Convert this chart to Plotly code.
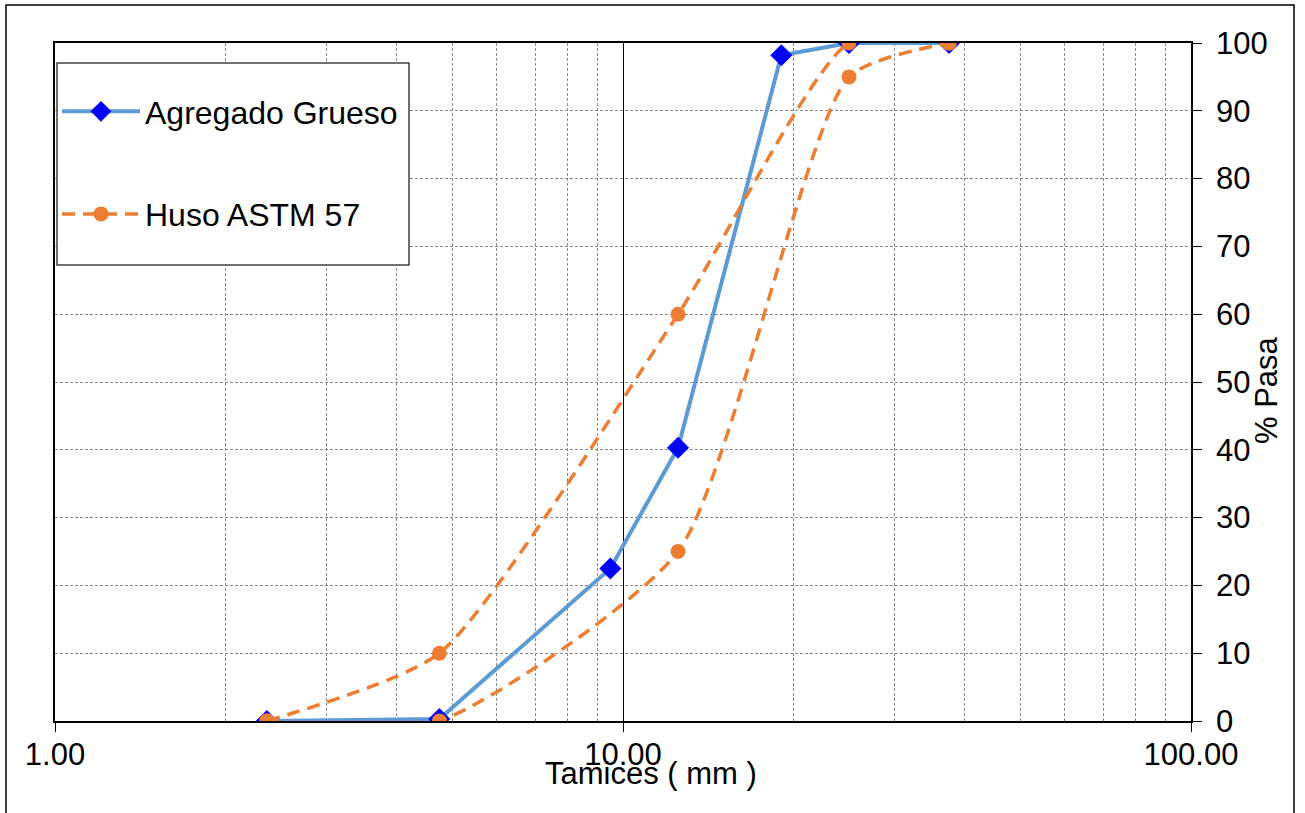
import plotly.graph_objects as go

# Data
tamices = [2.36, 4.75, 9.5, 12.5, 19.0, 25.0, 37.5]
agregado = [0.0, 0.3, 22.5, 40.3, 98.2, 100.0, 100.0]

huso_tamices = [2.36, 4.75, 12.5, 25.0, 37.5]
huso_sup = [0, 10, 60, 100, 100]
huso_inf = [0, 0, 25, 95, 100]

x_ticks = [1, 10, 100]
x_ticktext = ["1.00", "10.00", "100.00"]
x_minor = [2, 3, 4, 5, 6, 7, 8, 9, 20, 30, 40, 50, 60, 70, 80, 90]

BLUE_LINE = "#5B9BD5"
BLUE_MARK = "#0000FF"
ORANGE = "#ED7D31"
GRID = "#8a8a8a"
FONT = "Liberation Sans, Arial, sans-serif"

fig = go.Figure()
fig.add_trace(go.Scatter(
    x=tamices, y=agregado, mode="lines+markers", name="Agregado Grueso",
    line=dict(color=BLUE_LINE, width=4),
    marker=dict(symbol="diamond", size=17, color=BLUE_MARK),
    legendgroup="a",
))
fig.add_trace(go.Scatter(
    x=huso_tamices, y=huso_sup, mode="lines+markers", name="Huso ASTM 57",
    line=dict(color=ORANGE, width=3.5, dash="13px,8px", shape="spline", smoothing=0.6),
    marker=dict(symbol="circle", size=15, color=ORANGE),
    legendgroup="b",
))
fig.add_trace(go.Scatter(
    x=huso_tamices, y=huso_inf, mode="lines+markers", name="Huso ASTM 57",
    line=dict(color=ORANGE, width=3.5, dash="13px,8px", shape="spline", smoothing=0.6),
    marker=dict(symbol="circle", size=15, color=ORANGE),
    legendgroup="b", showlegend=False,
))

L, R, T, B = 55, 114, 43, 92
W, H = 1305, 813
pw, ph = W - L - R, H - T - B

def px(x):
    return (x - L) / pw

def py(y):
    return (H - B - y) / ph

fig.update_layout(
    width=W, height=H,
    margin=dict(l=L, r=R, t=T, b=B),
    paper_bgcolor="white", plot_bgcolor="white",
    font=dict(family=FONT, size=31, color="black"),
    showlegend=True,
    legend=dict(
        x=px(57), y=py(84), xanchor="left", yanchor="top",
        bgcolor="rgba(0,0,0,0)", borderwidth=0,
        font=dict(size=32, family=FONT),
        tracegroupgap=58, itemwidth=78,
        traceorder="grouped",
    ),
    xaxis=dict(
        type="log", range=[0, 2],
        tickvals=x_ticks, ticktext=x_ticktext,
        ticks="outside", ticklen=9, tickcolor="black",
        showline=True, linecolor="black", linewidth=1.5, mirror=True,
        showgrid=True, gridcolor="black", gridwidth=1,
        minor=dict(tickvals=x_minor, showgrid=True, gridcolor=GRID,
                   griddash="3px,2px", gridwidth=1, ticks=""),
        zeroline=False,
        ticklabelstandoff=-4,
        tickfont=dict(size=31, family=FONT),
    ),
    yaxis=dict(
        side="right", range=[0, 100], dtick=10,
        ticks="outside", ticklen=9, tickcolor="black",
        showline=True, linecolor="black", linewidth=1.5, mirror=True,
        showgrid=True, gridcolor=GRID, griddash="3px,2px", gridwidth=1,
        zeroline=False,
        ticklabelstandoff=8,
        tickfont=dict(size=31, family=FONT),
    ),
    shapes=[
        dict(type="rect", xref="paper", yref="paper", layer="below",
             x0=px(6), x1=px(1294), y0=py(5), y1=py(830),
             line=dict(color="black", width=1.5), fillcolor="white"),
        dict(type="rect", xref="paper", yref="paper", layer="above",
             x0=px(57), x1=px(409), y0=py(265), y1=py(63),
             line=dict(color="#404040", width=1.5), fillcolor="white"),
    ],
    annotations=[
        dict(text="Tamices ( mm )", xref="paper", yref="paper",
             x=px(651), y=py(773), xanchor="center", yanchor="middle",
             showarrow=False, font=dict(size=31, family=FONT)),
        dict(text="% Pasa", xref="paper", yref="paper", textangle=-90,
             x=px(1267), y=py(390), xanchor="center", yanchor="middle",
             showarrow=False, font=dict(size=31, family=FONT)),
    ],
)

fig.write_html("out.html")
